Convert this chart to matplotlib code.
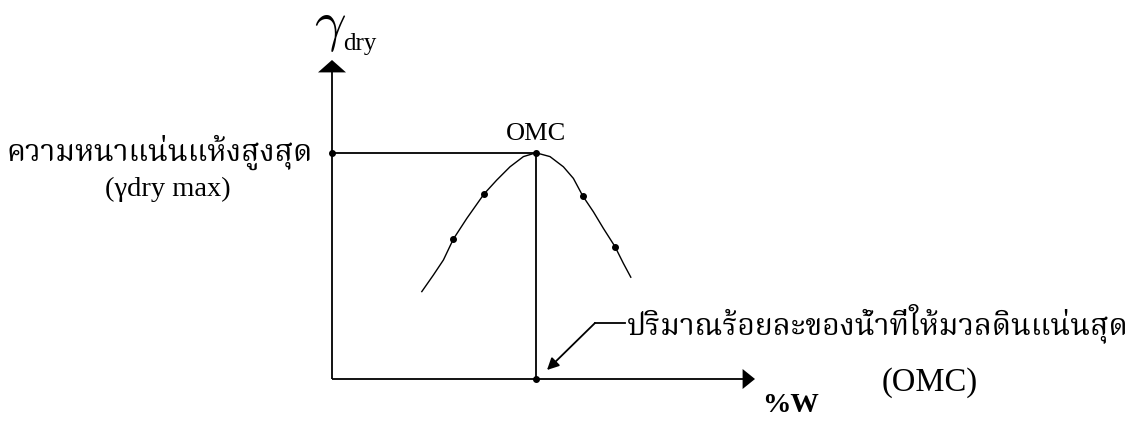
import matplotlib
matplotlib.use("Agg")
import matplotlib.pyplot as plt
from matplotlib import font_manager
from matplotlib.ft2font import FT2Font

# ---------------- data (arbitrary units: water content %, dry density) ----------------
curve_w = [4.49, 5.07, 5.57, 6.07, 6.74, 7.60, 8.24, 8.90, 9.57, 10.20,
           10.90, 11.57, 12.07, 12.54, 13.07, 13.57, 14.15, 14.57, 14.94]
curve_g = [4.37, 5.20, 5.95, 7.00, 8.03, 9.25, 9.95, 10.61, 11.12, 11.31,
           11.12, 10.61, 10.03, 9.15, 8.36, 7.53, 6.62, 5.78, 5.09]
test_w = [6.07, 7.60, 10.20, 12.54, 14.15]
test_g = [7.00, 9.25, 11.31, 9.15, 6.62]

label_ymax = "ความหนาแน่นแห้งสูงสุด"
label_ymax_sym = "(γdry max)"
label_omc_th = "ปริมาณร้อยละของน้ำที่ให้มวลดินแน่นสุด"
label_omc = "(OMC)"
label_peak = "OMC"
label_x = "%W"
label_y_sym = r"$\gamma$"
label_y_sub = "dry"

# ---------------- fonts ----------------
def find_thai_font():
    cands = []
    for f in font_manager.fontManager.ttflist:
        try:
            ft = FT2Font(f.fname)
            if ft.get_char_index(0x0E01) and ft.get_char_index(0x0E2A):
                cands.append(f)
        except Exception:
            pass
    if not cands:
        return None
    def score(f):
        n = f.name.lower()
        s = 0
        if "serif" in n and "sans" not in n:
            s -= 4
        if "looped" in n:
            s -= 2
        if "thai" in n:
            s -= 1
        if f.weight not in (400, "normal", "regular"):
            s += 3
        if f.style != "normal":
            s += 3
        return s
    cands.sort(key=score)
    return cands[0].name

thai_font = find_thai_font() or "DejaVu Sans"
serif = "Liberation Serif"

# ---------------- figure ----------------
W, H = 1139, 422
fig = plt.figure(figsize=(W / 100, H / 100), dpi=100)
ax = fig.add_axes([0, 0, 1, 1])
px = 20.0  # pixels per unit
x0_px, y0_px = 332, 379
ax.set_xlim(-x0_px / px, (W - x0_px) / px)
ax.set_ylim((y0_px - H) / px, y0_px / px)
ax.axis("off")

lw = 1.3
x_axis_end = 21.15
y_axis_end = 15.95

# axes with arrows
ax.plot([0, x_axis_end - 0.5], [0, 0], color="black", lw=lw, solid_capstyle="butt")
ax.plot([0, 0], [0, y_axis_end - 0.5], color="black", lw=lw, solid_capstyle="butt")
ax.fill([x_axis_end - 0.62, x_axis_end, x_axis_end - 0.62], [0.5, 0, -0.5], color="black", lw=0)
ax.fill([-0.7, 0, 0.7], [y_axis_end - 0.62, y_axis_end, y_axis_end - 0.62], color="black", lw=0)

# compaction curve
ax.plot(curve_w, curve_g, color="black", lw=1.0, solid_joinstyle="round")
ax.plot(test_w, test_g, "o", color="black", ms=4)

# optimum
i_max = max(range(len(test_g)), key=lambda i: test_g[i])
w_opt, g_max = test_w[i_max], test_g[i_max]
ax.plot([0, w_opt], [g_max, g_max], color="black", lw=lw)
ax.plot([w_opt, w_opt], [0, g_max], color="black", lw=lw)
ax.plot([0, w_opt], [g_max, 0], "o", color="black", ms=4)

# annotation arrow
ax.plot([w_opt + 2.95, w_opt + 4.45], [2.8, 2.8], color="black", lw=lw)
ax.annotate("", xy=(w_opt + 0.55, 0.45), xytext=(w_opt + 2.95, 2.8),
            arrowprops=dict(arrowstyle="-|>,head_length=0.7,head_width=0.35",
                            color="black", lw=lw, shrinkA=0, shrinkB=0))

# texts
ax.text(w_opt + 4.55, 2.8, label_omc_th, family=thai_font, fontsize=21.7,
        ha="left", va="center")
ax.text(29.9, -0.2, label_omc, family=serif, fontsize=23.5, ha="center", va="center")
ax.text(22.95, -1.35, label_x, family=serif, fontsize=20.5, weight="bold",
        ha="center", va="center")
ax.text(w_opt, g_max + 0.95, label_peak, family=serif, fontsize=19,
        ha="center", va="center")
ax.text(-0.95, g_max, label_ymax, family=thai_font, fontsize=21.7,
        ha="right", va="center")
ax.text(-8.2, g_max - 1.85, label_ymax_sym, family=serif, fontsize=20.5,
        ha="center", va="center")
ax.text(-0.1, 17.6, label_y_sym, fontsize=40, math_fontfamily="cm",
        ha="center", va="center")
ax.text(0.55, 16.75, label_y_sub, family=serif, fontsize=18,
        ha="left", va="center")

fig.savefig("out.png", dpi=100)
